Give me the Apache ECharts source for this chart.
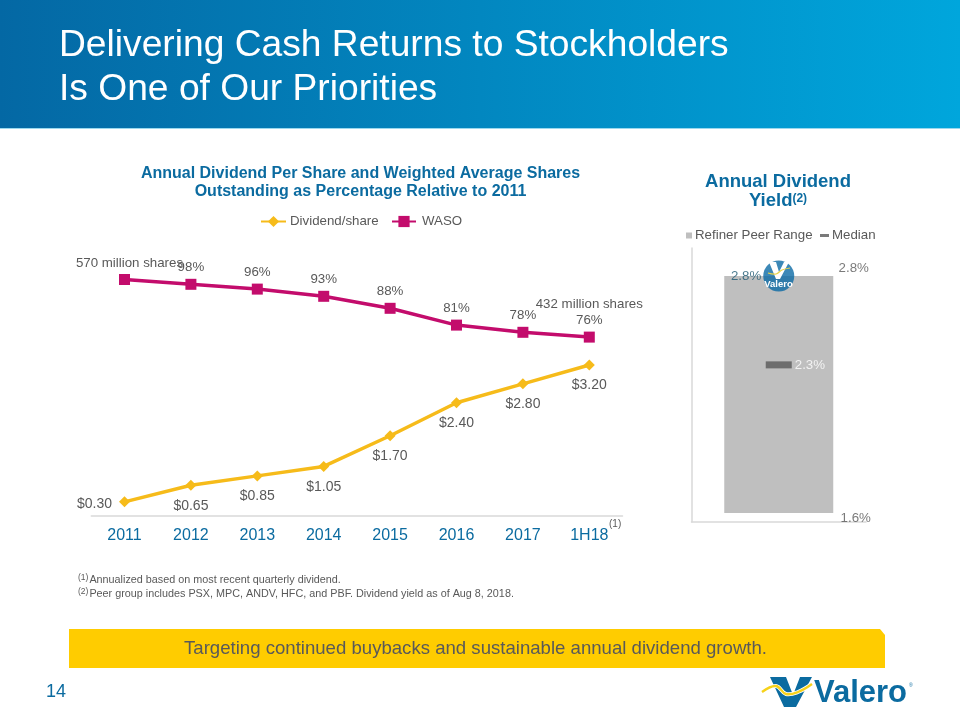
<!DOCTYPE html>
<html><head><meta charset="utf-8">
<style>html,body{margin:0;padding:0;background:#fff}#c{width:960px;height:720px}</style>
<script src="https://cdn.jsdelivr.net/npm/echarts@6/dist/echarts.min.js"></script>
</head><body><div id="c"></div>
<script>
const categories = ['2011','2012','2013','2014','2015','2016','2017','1H18'];
const dividendValues = [0.30,0.65,0.85,1.05,1.70,2.40,2.80,3.20];
const dividendLabels = ['$0.30','$0.65','$0.85','$1.05','$1.70','$2.40','$2.80','$3.20'];
const wasoValues = [100,98,96,93,88,81,78,76];
const wasoLabels = ['570 million shares','98%','96%','93%','88%','81%','78%','432 million shares\n76%'];
const yieldCategory = ['Yield'];
const peerLow = 1.6;
const peerHigh = 2.8;
const medianValue = 2.35;
const medianLabel = '2.3%';
const valeroValue = 2.8;
const valeroLabel = '2.8%';

const FONT = '"Liberation Sans", Arial, sans-serif';
const GREY = '#595959', BLUE = '#0B6BA0', GOLD = '#F6BB1A', MAG = '#C30C6C';

const chart = echarts.init(document.getElementById('c'), null, {renderer:'canvas'});

function txt(x,y,text,o){
  return {type:'text',x:x,y:y,z:100,silent:true,style:Object.assign({text:text,fontFamily:FONT,fill:GREY,verticalAlign:'middle',align:'left'},o||{})};
}
const sup = {fontSize:8.5,fontFamily:FONT,fill:GREY,color:GREY,verticalAlign:'top',padding:[0,1,4,0]};
function foot(y,n,t){
  return txt(78,y,'{s|('+n+')}{t|'+t+'}',{rich:{s:sup,t:{fontSize:10.8,fontFamily:FONT,fill:GREY,color:GREY}},fontSize:10.8});
}

chart.setOption({
  animation:false,
  backgroundColor:'#fff',
  title:[
    {text:'Annual Dividend Per Share and Weighted Average Shares\nOutstanding as Percentage Relative to 2011',
     left:355.5,top:159,textAlign:'center',
     textStyle:{fontFamily:FONT,fontSize:16,fontWeight:'bold',color:BLUE,lineHeight:18.5}},
    {text:'Annual Dividend\n{y|Yield}{s|(2)}',left:773,top:167,textAlign:'center',
     textStyle:{fontFamily:FONT,fontSize:18.5,fontWeight:'bold',color:BLUE,lineHeight:19.5,
       rich:{y:{fontFamily:FONT,fontSize:18.5,fontWeight:'bold',color:BLUE,lineHeight:19.5},
             s:{fontFamily:FONT,fontSize:12,fontWeight:'bold',color:BLUE,padding:[0,0,6,0]}}}}
  ],
  legend:[
    {data:['Dividend/share'],left:255,top:210,itemWidth:25,itemHeight:14,itemGap:4,selectedMode:false,
     textStyle:{fontFamily:FONT,fontSize:13.3,color:GREY,padding:[0,0,0,-1]}},
    {data:['WASO'],left:386,top:210,itemWidth:24,itemHeight:14,selectedMode:false,
     textStyle:{fontFamily:FONT,fontSize:13.3,color:GREY,padding:[0,0,0,1]}},
    {data:[{name:'Refiner Peer Range',icon:'rect'}],left:681,top:224,itemWidth:6,itemHeight:6,selectedMode:false,
     textStyle:{fontFamily:FONT,fontSize:13.3,color:GREY,padding:[0,0,0,-2]}},
    {data:[{name:'Median',icon:'rect'}],left:815,top:224,itemWidth:9,itemHeight:3,selectedMode:false,
     textStyle:{fontFamily:FONT,fontSize:13.3,color:GREY,padding:[0,0,0,-2]}}
  ],
  grid:[
    {left:91.3,width:531.2,top:246,height:270,containLabel:false},
    {left:691.5,width:174.5,top:248,height:274,containLabel:false}
  ],
  xAxis:[
    {type:'category',gridIndex:0,data:categories,
     axisLine:{lineStyle:{color:'#D9D9D9',width:1.5}},axisTick:{show:false},
     axisLabel:{fontFamily:FONT,fontSize:16,color:BLUE,margin:12}},
    {type:'category',gridIndex:1,data:yieldCategory,
     axisLine:{lineStyle:{color:'#D9D9D9',width:1.5}},axisTick:{show:false},axisLabel:{show:false}}
  ],
  yAxis:[
    {type:'value',gridIndex:0,min:0,max:5.72,show:false,splitLine:{show:false}},
    {type:'value',gridIndex:0,min:1.46,max:113.96,show:false,splitLine:{show:false}},
    {type:'value',gridIndex:1,min:1.554,max:2.942,
     axisLine:{show:true,lineStyle:{color:'#D9D9D9',width:1.5}},axisTick:{show:false},
     axisLabel:{show:false},splitLine:{show:false}}
  ],
  series:[
    {name:'Dividend/share',type:'line',xAxisIndex:0,yAxisIndex:0,data:dividendValues.map((v,i)=>({
        value:v,
        label:i===0?{position:'left',distance:7,offset:[0,2]}:{}
      })),
      color:GOLD,symbol:'diamond',symbolSize:11,lineStyle:{color:GOLD,width:3.5},itemStyle:{color:GOLD},
      label:{show:true,position:'bottom',distance:8,fontFamily:FONT,fontSize:14,color:GREY,
        formatter:p=>dividendLabels[p.dataIndex]},z:3},
    {name:'WASO',type:'line',xAxisIndex:0,yAxisIndex:1,data:wasoValues.map((v,i)=>({
        value:v,
        label:i===0?{offset:[5,0]}:{}
      })),
      color:MAG,symbol:'rect',symbolSize:11,lineStyle:{color:MAG,width:3.5},itemStyle:{color:MAG},
      label:{show:true,position:'top',distance:3,fontFamily:FONT,fontSize:13.3,lineHeight:16,color:GREY,
        formatter:p=>wasoLabels[p.dataIndex]},z:3},
    {name:'base',type:'bar',xAxisIndex:1,yAxisIndex:2,stack:'peer',data:[peerLow],barWidth:109,
      itemStyle:{color:'transparent'},silent:true},
    {name:'Refiner Peer Range',type:'bar',xAxisIndex:1,yAxisIndex:2,stack:'peer',data:[peerHigh-peerLow],barWidth:109,
      color:'#BFBFBF',itemStyle:{color:'#BFBFBF'}},
    {name:'Peer ends',type:'scatter',xAxisIndex:1,yAxisIndex:2,symbolSize:0,
      data:[{value:peerHigh,label:{offset:[75,-8]}},{value:peerLow,label:{offset:[77,5]}}],
      label:{show:true,position:'inside',fontFamily:FONT,fontSize:13.3,color:GREY,
        formatter:p=>p.value.toFixed(1)+'%'},z:4},
    {name:'Median',type:'scatter',xAxisIndex:1,yAxisIndex:2,data:[medianValue],symbol:'rect',symbolSize:[26,7],
      color:'#595959',itemStyle:{color:'#595959'},
      label:{show:true,position:'right',distance:3,fontFamily:FONT,fontSize:13.3,color:'#fff',formatter:()=>medianLabel},z:5},
    {name:'Valero',type:'scatter',xAxisIndex:1,yAxisIndex:2,data:[valeroValue],symbol:'circle',symbolSize:31,
      itemStyle:{color:'#0B6AA5'},
      label:{show:true,position:'left',distance:2,fontFamily:FONT,fontSize:13.3,color:'#1F5A73',formatter:()=>valeroLabel},z:5}
  ],
  graphic:[
    {type:'rect',z:1,silent:true,shape:{x:0,y:0,width:960,height:128},
     style:{fill:new echarts.graphic.LinearGradient(0,0,1,0,[{offset:0,color:'#0468A4'},{offset:1,color:'#00A6DC'}])}},
    {type:'rect',z:1,silent:true,shape:{x:0,y:128,width:960,height:1},style:{fill:'#9AD8EE'}},
    txt(59,46,'Delivering Cash Returns to Stockholders',{fontSize:37.2,fill:'#fff'}),
    txt(59,90,'Is One of Our Priorities',{fontSize:37.2,fill:'#fff'}),
    txt(609,524,'(1)',{fontSize:10}),
    foot(580,1,'Annualized based on most recent quarterly dividend.'),
    foot(594,2,'Peer group includes PSX, MPC, ANDV, HFC, and PBF. Dividend yield as of Aug 8, 2018.'),
    {type:'polygon',z:1,silent:true,shape:{points:[[69,629],[880,629],[885,635],[885,668],[69,668]]},style:{fill:'#FFCC00'}},
    txt(475.5,649,'Targeting continued buybacks and sustainable annual dividend growth.',{fontSize:18.6,align:'center',fill:'#595959'}),
    txt(46,692,'14',{fontSize:18,fill:BLUE}),
    // small round Valero logo
    {type:'polygon',z:100,silent:true,shape:{points:[[769,262],[776,262],[779,272],[784,262],[789,262],[780,279],[776,279]]},style:{fill:'#fff'}},
    {type:'polyline',z:100,silent:true,shape:{points:[[768,273],[776,274],[782,270],[790,268]],smooth:0.4},style:{stroke:'#E8D44A',fill:null,lineWidth:1.2}},
    txt(778.5,284,'Valero',{fontSize:9.5,fontWeight:'bold',fill:'#fff',align:'center'}),
    // footer Valero logo
    {type:'polygon',z:100,silent:true,shape:{points:[[770,677],[786,677],[793,695],[800,677],[812,677],[796,707],[784,707]]},style:{fill:'#0B6BA0'}},
    {type:'polyline',z:100,silent:true,shape:{points:[[762,692],[776,686],[786,694],[798,692],[812,684]],smooth:0.4},style:{stroke:'#fff',fill:null,lineWidth:4}},
    {type:'polyline',z:101,silent:true,shape:{points:[[762,692],[776,686],[786,694],[798,692],[812,684]],smooth:0.4},style:{stroke:'#F6D21A',fill:null,lineWidth:2.4}},
    txt(814,693,'Valero',{fontSize:31,fontWeight:'bold',fill:'#0B6BA0'}),
    txt(909,686,'®',{fontSize:5,fill:'#0B6BA0'})
  ]
});
</script></body></html>
